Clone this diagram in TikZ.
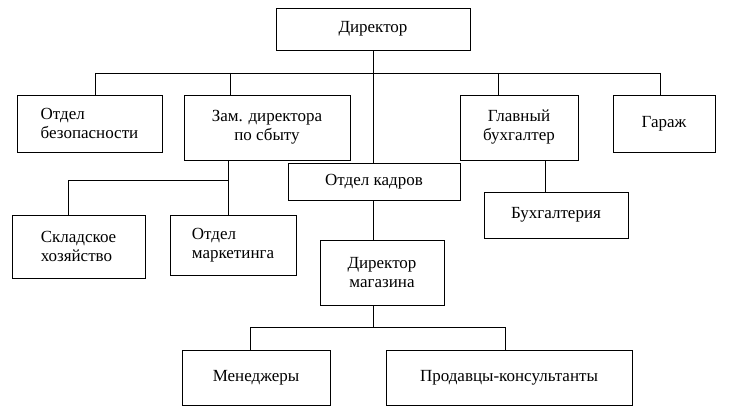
\documentclass[tikz,border=0pt]{standalone}
\usepackage{fontspec}
\setmainfont{Liberation Serif}
\usetikzlibrary{positioning}
\tikzset{unit/.style={draw, line width=0.9pt, inner sep=2pt, font=\fontsize{17}{19}\selectfont, align=center}}

\begin{document}
\begin{tikzpicture}[x=1pt, y=-1pt, line width=0.9pt]
        \useasboundingbox (0,0) rectangle (732,412);
        \node[unit, minimum width=194pt, minimum height=42pt] (dir) at (373,29) {Директор};
        \node[unit, minimum width=145pt, minimum height=57pt, align=left] (bez) at (89.5,123.5) {Отдел\\безопасности};
        \node[unit, minimum width=166pt, minimum height=65pt] (zam) at (267,127.5) {Зам. директора\\по сбыту};
        \node[unit, minimum width=118pt, minimum height=65pt] (glb) at (519,127.5) {Главный\\бухгалтер};
        \node[unit, minimum width=102pt, minimum height=57pt] (gar) at (664,123.5) {Гараж};
        \node[unit, minimum width=172pt, minimum height=37pt] (kadr) at (374,181.5) {Отдел кадров};
        \node[unit, minimum width=133pt, minimum height=63pt, align=left] (skl) at (78.5,246.5) {Складское\\хозяйство};
        \node[unit, minimum width=126pt, minimum height=60pt, align=left] (mark) at (233,245) {Отдел\\маркетинга};
        \node[unit, minimum width=144pt, minimum height=46pt] (buh) at (556,215) {Бухгалтерия};
        \node[unit, minimum width=124pt, minimum height=65pt] (dmag) at (382,272.5) {Директор\\магазина};
        \node[unit, minimum width=148pt, minimum height=55pt] (men) at (256,377.5) {Менеджеры};
        \node[unit, minimum width=246pt, minimum height=55pt] (prod) at (509,377.5) {Продавцы-консультанты};
        % top bus
        \coordinate (busl) at (95,73);
        \coordinate (busr) at (660,73);
        \draw (busl) -- (busr);
        \draw (dir.south) -- (373,163);
        \draw (busl) -- (bez.north -| busl);
        \draw (230,73) -- (230,95);
        \draw (498,73) -- (498,95);
        \draw (busr) -- (gar.north -| busr);
        % sales branch
        \draw (228,160) -- (mark.north -| 228,0);
        \draw (68,180) -- (228,180);
        \draw (68,180) -- (skl.north -| 68,0);
        \draw (545,160) -- (buh.north -| 545,0);
        \draw (373,200) -- (373,240);
        % shop
        \draw (373,305) -- (373,327);
        \draw (250,327) -- (505,327);
        \draw (250,327) -- (men.north -| 250,0);
        \draw (505,327) -- (prod.north -| 505,0);
\end{tikzpicture}
\end{document}
